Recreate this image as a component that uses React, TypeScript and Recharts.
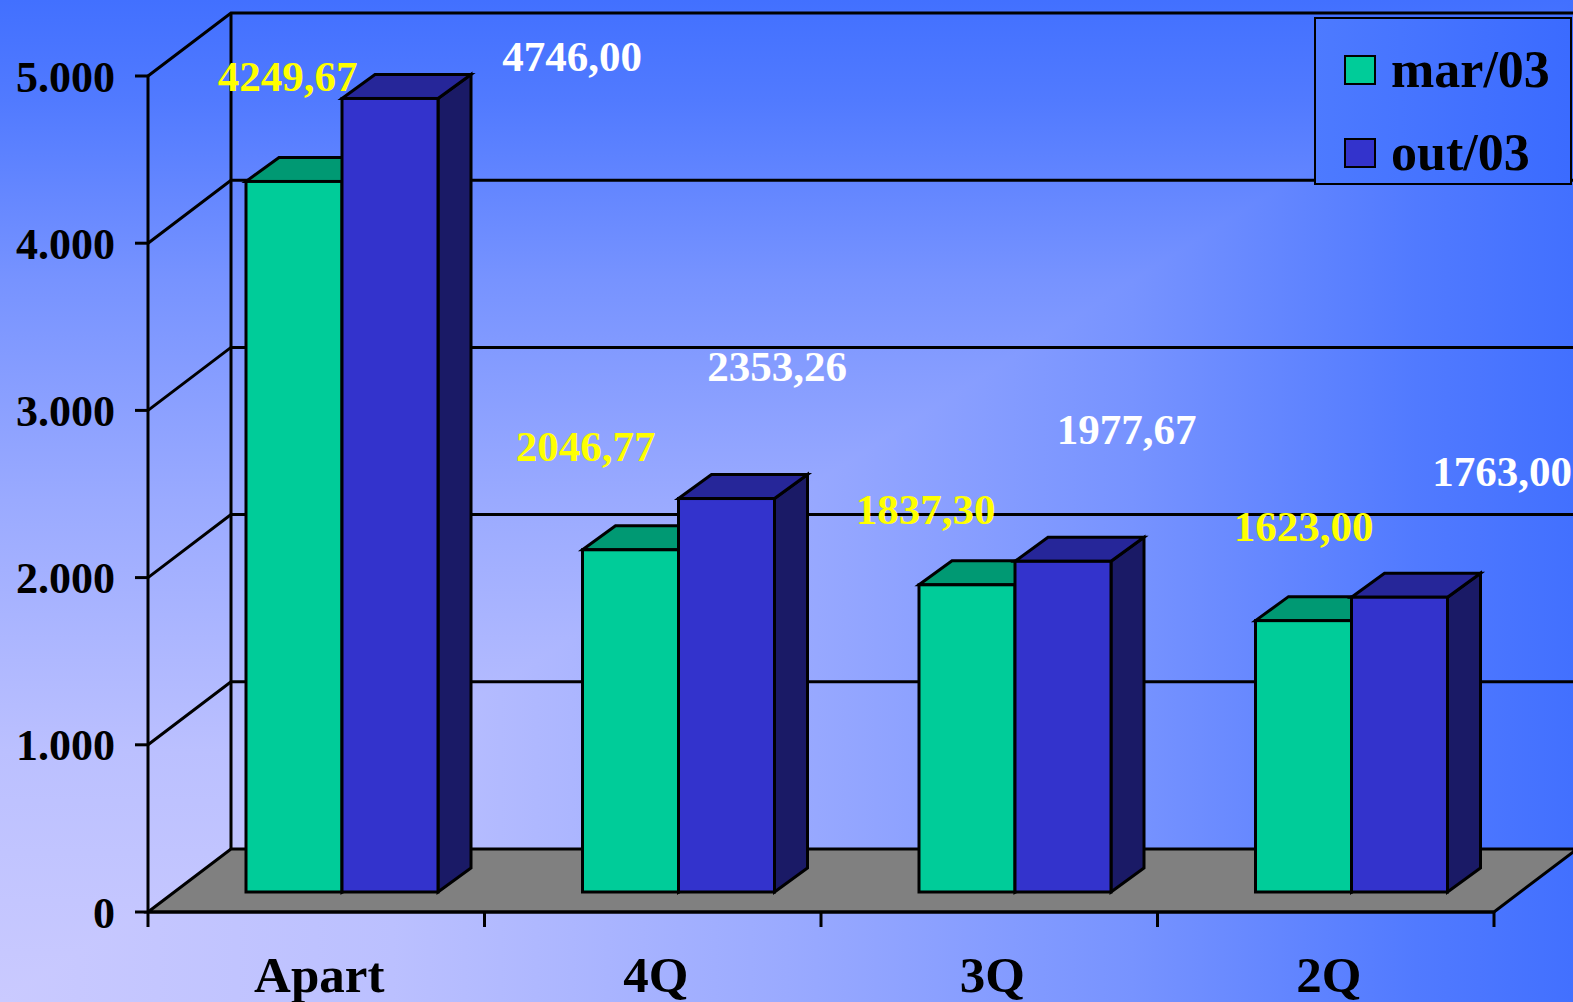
import React from 'react';
import { BarChart, Bar, XAxis, YAxis, CartesianGrid, Legend, LabelList } from 'recharts';

// ---------- data ----------
const categories = ['Apart', '4Q', '3Q', '2Q'];
const mar03 = [4249.67, 2046.77, 1837.3, 1623.0];
const out03 = [4746.0, 2353.26, 1977.67, 1763.0];
const yTicks = [0, 1000, 2000, 3000, 4000, 5000];
const seriesNames = ['mar/03', 'out/03'];

// label nudges (layout only), relative to the top-centre of each bar's front face
const marLabelOffsets = [[-6.5, -90], [-45, -89], [-41.5, -61], [0, -80]];
const outLabelOffsets = [[182, -27], [50.5, -117.5], [63.5, -117], [102.5, -111]];

const data = categories.map((c, i) => ({ name: c, mar: mar03[i], out: out03[i] }));

// ---------- layout ----------
const W = 1573;
const H = 1002;
const MARGIN = { top: 76, right: 79, bottom: 60, left: 88 };
const Y_AXIS_W = 60;
const X_AXIS_H = 30;
const PLOT_TOP = MARGIN.top;
const PLOT_BOTTOM = H - MARGIN.bottom - X_AXIS_H;
const PLOT_LEFT = MARGIN.left + Y_AXIS_W;
const PLOT_RIGHT = W - MARGIN.right;
const WALL_DX = 83;
const WALL_DY = 63;
const BAR_DX = 26;
const BAR_DY = 20;
const DEPTH_DX = 33;
const DEPTH_DY = 24;
const FONT = "'Liberation Serif', 'Times New Roman', serif";
const SW = 3;

const fmtVal = (v: number) => v.toFixed(2).replace('.', ',');
const fmtTick = (v: number) => String(v).replace(/\B(?=(\d{3})+(?!\d))/g, '.');

const gridLine = (props: any) => {
  const { x1, y1, x2, y2, index } = props;
  const key = props.key ?? `g${index}`;
  if (Math.abs(y1 - PLOT_BOTTOM) < 1) {
    return (
      <g key={key}>
        <polygon
          points={`${x1},${y1} ${x1 + WALL_DX},${y1 - WALL_DY} ${x2 + WALL_DX},${y2 - WALL_DY} ${x2},${y2}`}
          fill="#808080"
          stroke="#000"
          strokeWidth={SW}
        />
        <line
          x1={x1 + WALL_DX}
          y1={y1 - WALL_DY}
          x2={x1 + WALL_DX}
          y2={PLOT_TOP - WALL_DY}
          stroke="#000"
          strokeWidth={SW}
        />
      </g>
    );
  }
  return (
    <polyline
      key={key}
      points={`${x1},${y1} ${x1 + WALL_DX},${y1 - WALL_DY} ${W + 10},${y1 - WALL_DY}`}
      fill="none"
      stroke="#000"
      strokeWidth={SW}
    />
  );
};

const make3D = (front: string, top: string, side: string) => (props: any) => {
  const { x, y, width, height } = props;
  if (x == null || width == null) return <g />;
  const fx = x + BAR_DX;
  const fy = y - BAR_DY;
  const w = width;
  const h = height;
  return (
    <g>
      <polygon
        points={`${fx + w},${fy} ${fx + w + DEPTH_DX},${fy - DEPTH_DY} ${fx + w + DEPTH_DX},${fy + h - DEPTH_DY} ${fx + w},${fy + h}`}
        fill={side}
        stroke="#000"
        strokeWidth={SW}
        strokeLinejoin="miter"
      />
      <polygon
        points={`${fx},${fy} ${fx + DEPTH_DX},${fy - DEPTH_DY} ${fx + w + DEPTH_DX},${fy - DEPTH_DY} ${fx + w},${fy}`}
        fill={top}
        stroke="#000"
        strokeWidth={SW}
        strokeLinejoin="miter"
      />
      <rect x={fx} y={fy} width={w} height={h} fill={front} stroke="#000" strokeWidth={SW} />
    </g>
  );
};

const makeLabel = (offsets: number[][], color: string, values: number[]) => (props: any) => {
  const vb = props.viewBox || {};
  const x = props.x ?? vb.x;
  const y = props.y ?? vb.y;
  const width = props.width ?? vb.width;
  const idx = typeof props.index === 'number' ? props.index : values.indexOf(Number(props.value));
  const off = offsets[idx] || [0, -40];
  return (
    <text
      x={x + BAR_DX + width / 2 + off[0]}
      y={y - BAR_DY + off[1]}
      textAnchor="middle"
      fill={color}
      fontSize={43}
      fontWeight="bold"
      fontFamily={FONT}
    >
      {fmtVal(Number(props.value))}
    </text>
  );
};

const XTick = (props: any) => {
  const { x, payload, index } = props;
  const half = (payload && payload.offset) || (PLOT_RIGHT - PLOT_LEFT) / categories.length / 2;
  return (
    <g>
      <line x1={x - half} y1={PLOT_BOTTOM} x2={x - half} y2={PLOT_BOTTOM + 15} stroke="#000" strokeWidth={SW} />
      {index === categories.length - 1 && (
        <line x1={x + half} y1={PLOT_BOTTOM} x2={x + half} y2={PLOT_BOTTOM + 15} stroke="#000" strokeWidth={SW} />
      )}
      <text
        x={x + 3}
        y={PLOT_BOTTOM + 80}
        textAnchor="middle"
        fill="#000"
        fontSize={51}
        fontWeight="bold"
        fontFamily={FONT}
      >
        {payload.value}
      </text>
    </g>
  );
};

const renderLegend = (props: any) => {
  const payload = props.payload || [];
  return (
    <div
      style={{
        width: 254,
        height: 164,
        border: '2px solid #000',
        background: 'linear-gradient(to right, #4d7aff, #3b6bff)',
        position: 'relative',
      }}
    >
      {payload.map((p: any, i: number) => (
        <div
          key={i}
          style={{ position: 'absolute', left: 28, top: 26 + i * 83, display: 'flex', alignItems: 'center' }}
        >
          <span
            style={{
              display: 'inline-block',
              width: 28,
              height: 26,
              border: '2px solid #000',
              background: p.color,
            }}
          />
          <span
            style={{
              marginLeft: 15,
              fontFamily: FONT,
              fontWeight: 'bold',
              fontSize: 52,
              lineHeight: '50px',
              color: '#000',
              whiteSpace: 'nowrap',
            }}
          >
            {p.value}
          </span>
        </div>
      ))}
    </div>
  );
};

// rectangular "from corner" gradient (light in the bottom-left corner)
const bgStops = [
  [0, '#cacaff'],
  [0.25, '#bbc0ff'],
  [0.5, '#9aaaff'],
  [0.72, '#7793ff'],
  [0.9, '#517aff'],
  [1, '#4270ff'],
];

const Background = () => (
  <svg width={W} height={H} style={{ position: 'absolute', left: 0, top: 0 }}>
    <defs>
      <linearGradient id="bgV" gradientUnits="userSpaceOnUse" x1="0" y1={H} x2="0" y2="0">
        {bgStops.map(([o, c]) => (
          <stop key={String(o)} offset={o as number} stopColor={c as string} />
        ))}
      </linearGradient>
      <linearGradient id="bgH" gradientUnits="userSpaceOnUse" x1="0" y1="0" x2={W} y2="0">
        {bgStops.map(([o, c]) => (
          <stop key={String(o)} offset={o as number} stopColor={c as string} />
        ))}
      </linearGradient>
    </defs>
    <rect x="0" y="0" width={W} height={H} fill="url(#bgV)" />
    <polygon points={`0,${H} ${W},0 ${W},${H}`} fill="url(#bgH)" />
  </svg>
);

export default function App() {
  return (
    <div style={{ position: 'absolute', left: 0, top: 0, width: W, height: H, overflow: 'hidden' }}>
      <Background />
      <div style={{ position: 'absolute', left: 0, top: 0 }}>
        <BarChart width={W} height={H} data={data} margin={MARGIN} barGap={0} barSize={96}>
          <CartesianGrid vertical={false} horizontal={gridLine} stroke="#000" fill="none" />
          <XAxis
            dataKey="name"
            height={X_AXIS_H}
            axisLine={{ stroke: '#000', strokeWidth: SW }}
            tickLine={false}
            tick={XTick}
            interval={0}
          />
          <YAxis
            width={Y_AXIS_W}
            domain={[0, 5000]}
            ticks={yTicks}
            interval={0}
            tickFormatter={fmtTick}
            axisLine={{ stroke: '#000', strokeWidth: SW }}
            tickLine={{ stroke: '#000', strokeWidth: SW }}
            tickSize={13}
            tickMargin={20}
            tick={{ fill: '#000', fontSize: 44, fontWeight: 'bold', fontFamily: FONT }}
          />
          <Legend
            layout="horizontal"
            verticalAlign="middle"
            align="center"
            content={renderLegend}
            wrapperStyle={{ position: 'absolute', left: 1314, top: 17, width: 258, height: 168 }}
          />
          <Bar
            dataKey="mar"
            name={seriesNames[0]}
            fill="#00CC99"
            shape={make3D('#00CC99', '#009973', '#007A5C')}
            isAnimationActive={false}
          >
            <LabelList dataKey="mar" content={makeLabel(marLabelOffsets, '#FFFF00', mar03)} />
          </Bar>
          <Bar
            dataKey="out"
            name={seriesNames[1]}
            fill="#3333CC"
            shape={make3D('#3333CC', '#262699', '#1A1A66')}
            isAnimationActive={false}
          >
            <LabelList dataKey="out" content={makeLabel(outLabelOffsets, '#FFFFFF', out03)} />
          </Bar>
        </BarChart>
      </div>
    </div>
  );
}
